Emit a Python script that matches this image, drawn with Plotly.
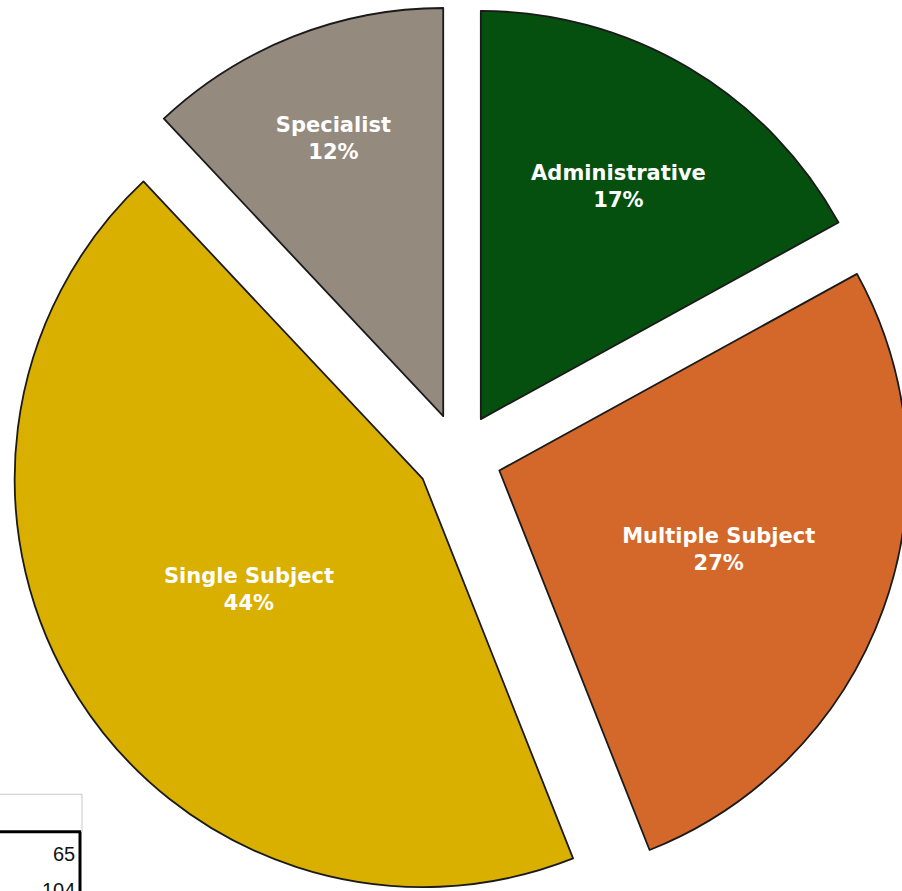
import plotly.graph_objects as go

categories = ["Administrative", "Multiple Subject", "Single Subject", "Specialist"]
shares = [17, 27, 44, 12]
colors = ["#06500F", "#D3682A", "#D9AF00", "#958A7E"]
table_values = ["65", "104"]

W, H = 918, 912

fig = go.Figure(go.Pie(
    labels=categories,
    values=shares,
    sort=False,
    direction="clockwise",
    rotation=0,
    pull=[0.105] * len(categories),
    marker=dict(colors=colors, line=dict(color="#1A1A1A", width=1.8)),
    textposition="inside",
    insidetextorientation="horizontal",
    texttemplate="<b>%{label}</b><br><b>%{percent:.0%}</b>",
    textfont=dict(family="DejaVu Sans", size=21, color="white"),
    hoverinfo="label+percent",
    showlegend=False,
    domain=dict(x=[0, 1], y=[0, 1]),
))

def px(x):
    return x / W

def py(y):
    return 1 - y / H

shapes = [
    dict(type="rect", xref="paper", yref="paper", x0=px(-5), x1=px(82), y0=py(836), y1=py(798),
         line=dict(color="#C8C8C8", width=1), fillcolor="white", layer="below"),
    dict(type="line", xref="paper", yref="paper", x0=px(-5), x1=px(81), y0=py(836), y1=py(836),
         line=dict(color="black", width=3)),
    dict(type="line", xref="paper", yref="paper", x0=px(80), x1=px(80), y0=py(836), y1=py(H),
         line=dict(color="black", width=3)),
]

annotations = [
    dict(text=table_values[0], xref="paper", yref="paper", x=px(77), y=py(858), xanchor="right",
         yanchor="middle", showarrow=False, font=dict(family="Liberation Sans", size=20, color="#111")),
    dict(text=table_values[1], xref="paper", yref="paper", x=px(77), y=py(895), xanchor="right",
         yanchor="middle", showarrow=False, font=dict(family="Liberation Sans", size=20, color="#111")),
]

fig.update_layout(
    width=W, height=H,
    margin=dict(l=0, r=0, t=5, b=5, pad=0),
    paper_bgcolor="white",
    plot_bgcolor="white",
    shapes=shapes,
    annotations=annotations,
)

fig.write_html(
    "out.html",
    config={"displayModeBar": False},
    post_script="document.body.style.margin='0';document.body.style.overflow='hidden';document.documentElement.style.overflow='hidden';",
)
